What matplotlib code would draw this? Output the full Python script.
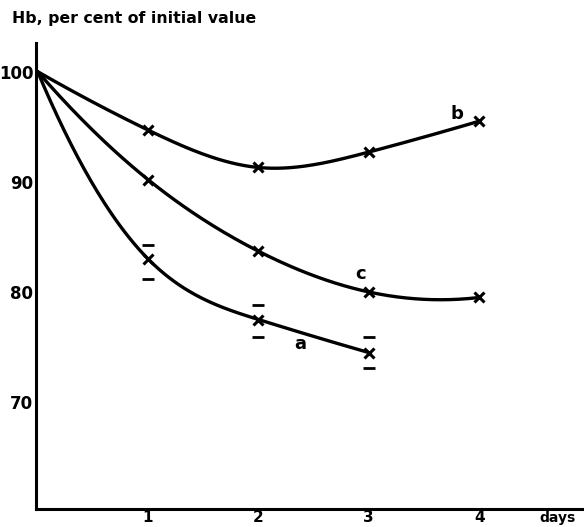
import numpy as np
import matplotlib.pyplot as plt

days = [0, 1, 2, 3, 4]
hb_b = [100, 94.7, 91.3, 92.7, 95.5]
hb_c = [100, 90.2, 83.7, 80.0, 79.5]
days_a = [0, 1, 2, 3]
hb_a = [100, 83.0, 77.5, 74.5]
a_upper = [84.3, 78.8, 75.9]
a_lower = [81.2, 75.9, 73.1]
y_ticks = [70, 80, 90, 100]
x_ticks = [1, 2, 3, 4]


def smooth(xs, ys, n=200):
    # cubic spline (parabolic run-out ends) through the points, for drawing only
    x = np.asarray(xs, float)
    y = np.asarray(ys, float)
    k = len(x)
    h = np.diff(x)
    A = np.zeros((k, k))
    r = np.zeros(k)
    A[0, 0], A[0, 1] = 1, -1
    A[-1, -1], A[-1, -2] = 1, -1
    for i in range(1, k - 1):
        A[i, i - 1] = h[i - 1]
        A[i, i] = 2 * (h[i - 1] + h[i])
        A[i, i + 1] = h[i]
        r[i] = 6 * ((y[i + 1] - y[i]) / h[i] - (y[i] - y[i - 1]) / h[i - 1])
    m = np.linalg.solve(A, r)
    xx = np.linspace(x[0], x[-1], n)
    idx = np.clip(np.searchsorted(x, xx) - 1, 0, k - 2)
    x0, x1 = x[idx], x[idx + 1]
    hh = x1 - x0
    t0, t1 = x1 - xx, xx - x0
    yy = (m[idx] * t0 ** 3 + m[idx + 1] * t1 ** 3) / (6 * hh) \
        + (y[idx] / hh - m[idx] * hh / 6) * t0 + (y[idx + 1] / hh - m[idx + 1] * hh / 6) * t1
    return xx, yy


fig = plt.figure(figsize=(5.84, 5.27), dpi=100)
ax = fig.add_axes([36 / 584, 18 / 527, 548 / 584, 466 / 527])

for xs, ys in [(days, hb_b), (days, hb_c), (days_a, hb_a)]:
    sx, sy = smooth(xs, ys)
    ax.plot(sx, sy, color="black", lw=2.4, solid_capstyle="round")
    ax.plot(xs[1:], ys[1:], ls="none", marker="x", ms=7, mew=2.2, color="black")

ax.plot(days_a[1:], a_upper, ls="none", marker="_", ms=8, mew=2, color="black")
ax.plot(days_a[1:], a_lower, ls="none", marker="_", ms=8, mew=2, color="black")

ax.set_xlim(-0.015, 4.95)
ax.set_ylim(60.3, 102.6)

for s in ["top", "right"]:
    ax.spines[s].set_visible(False)
for s in ["left", "bottom"]:
    ax.spines[s].set_linewidth(2.2)

ax.set_xticks(x_ticks)
ax.set_xticklabels([str(v) for v in x_ticks], fontsize=11, fontweight="bold")
ax.set_yticks(y_ticks)
ax.set_yticklabels([str(v) for v in y_ticks], fontsize=12, fontweight="bold")
ax.tick_params(axis="y", length=0, pad=2)
ax.tick_params(axis="x", length=0, pad=1)

fig.text(576 / 584, 1 - 511 / 527, "days", fontsize=10, fontweight="bold",
         ha="right", va="top")
fig.text(12 / 584, 1 - 18 / 527, "Hb, per cent of initial value", fontsize=11.3,
         fontweight="bold", ha="left", va="center")

ax.text(3.8, 96.2, "b", fontsize=13, fontweight="bold", ha="center", va="center")
ax.text(2.93, 81.6, "c", fontsize=13, fontweight="bold", ha="center", va="center")
ax.text(2.38, 75.3, "a", fontsize=13, fontweight="bold", ha="center", va="center")

fig.savefig("out.png", dpi=100)
